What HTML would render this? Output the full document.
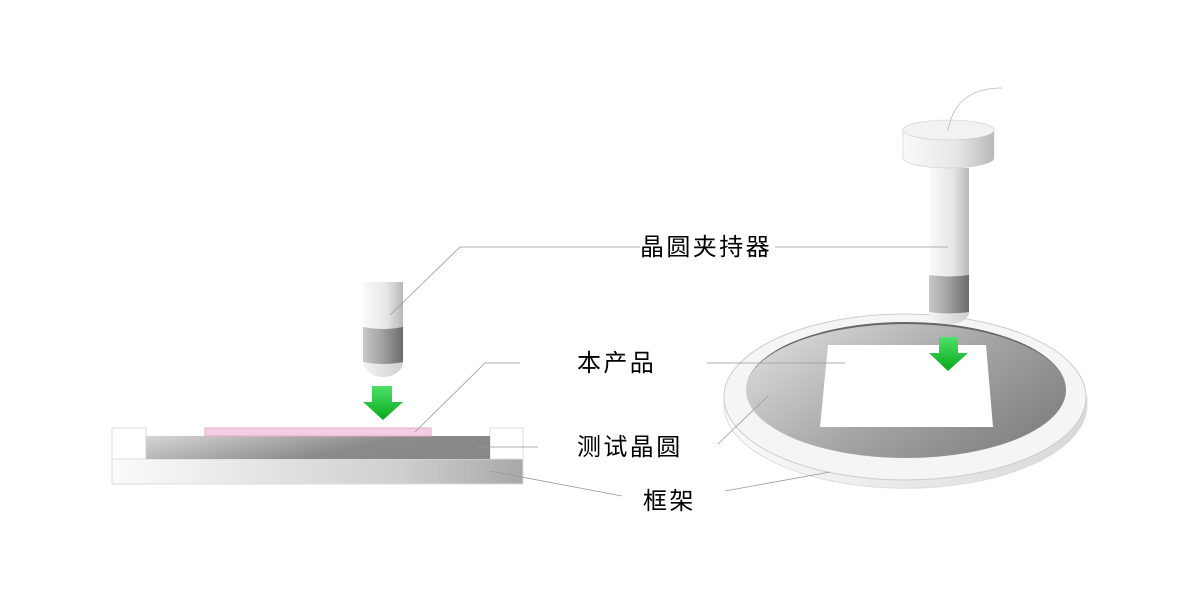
<!DOCTYPE html>
<html><head><meta charset="utf-8"><style>html,body{margin:0;padding:0;background:#fff}svg{display:block}text{font-family:"Liberation Sans","Noto Sans CJK SC",sans-serif;font-size:24px;fill:#000;letter-spacing:2.4px}</style></head>
<body>
<svg width="1200" height="600" viewBox="0 0 1200 600" xmlns="http://www.w3.org/2000/svg">
<defs>
<linearGradient id="cyl" x1="0" x2="1"><stop offset="0" stop-color="#fafafa"/><stop offset="0.6" stop-color="#e6e6e6"/><stop offset="1" stop-color="#b8b8b8"/></linearGradient>
<linearGradient id="band" x1="0" x2="1"><stop offset="0" stop-color="#c8c8c8"/><stop offset="0.5" stop-color="#a0a0a0"/><stop offset="1" stop-color="#6a6a6a"/></linearGradient>
<linearGradient id="tip" x1="0" x2="1"><stop offset="0" stop-color="#f4f4f4"/><stop offset="1" stop-color="#cfcfcf"/></linearGradient>
<linearGradient id="arr" x1="0" y1="0" x2="0" y2="1"><stop offset="0" stop-color="#4ee06a"/><stop offset="1" stop-color="#07a81a"/></linearGradient>
<linearGradient id="waf" x1="0" y1="0" x2="1" y2="0.3"><stop offset="0" stop-color="#d6d6d6"/><stop offset="0.7" stop-color="#8a8a8a"/><stop offset="1" stop-color="#888"/></linearGradient>
<linearGradient id="frm" x1="0" x2="1"><stop offset="0" stop-color="#fbfbfb"/><stop offset="0.7" stop-color="#cfcfcf"/><stop offset="1" stop-color="#a8a8a8"/></linearGradient>
<linearGradient id="disc" x1="0" y1="0" x2="1" y2="0.6"><stop offset="0" stop-color="#e4e4e4"/><stop offset="0.6" stop-color="#a6a6a6"/><stop offset="1" stop-color="#858585"/></linearGradient>
<linearGradient id="rim" x1="0" x2="1"><stop offset="0" stop-color="#fafafa"/><stop offset="1" stop-color="#d8d8d8"/></linearGradient>
</defs>

<!-- left frame -->
<rect x="112" y="459" width="411" height="25" fill="url(#frm)" stroke="#ddd"/>
<rect x="112" y="428" width="34" height="31" fill="#fff" stroke="#ddd"/>
<rect x="490" y="428" width="33" height="31" fill="#fff" stroke="#ddd"/>
<rect x="146" y="436" width="344" height="23" fill="url(#waf)"/>
<rect x="205" y="428" width="226" height="8" fill="#f6cde0" stroke="#e0b0c4"/>
<!-- left probe -->
<path d="M363 327 V362 A20 15 0 0 0 403 362 V327 Z" fill="url(#tip)"/>
<rect x="363" y="282" width="40" height="48" fill="url(#cyl)"/>
<path d="M363 327 Q383 331 403 327 V362 Q383 366 363 362 Z" fill="url(#band)"/>
<polygon points="372,386 392,386 392,402 403,402 383,420 363,402 372,402" fill="url(#arr)"/>

<!-- right disc -->
<path d="M724 397 V405 A181 83 0 0 0 1087 405 V397 Z" fill="url(#rim)" stroke="#ddd"/>
<ellipse cx="905" cy="397" rx="181" ry="83" fill="#f5f5f5" stroke="#ccc"/>
<ellipse cx="906" cy="390" rx="160" ry="68" fill="url(#disc)"/>
<path d="M746 390 A160 68 0 0 1 1066 390 A160 66 0 0 0 746 390 Z" fill="#666"/>
<polygon points="828,345 986,345 993,427 820,427" fill="#fff"/>
<polygon points="939,337 958,337 958,353 968,353 948,371 929,353 939,353" fill="url(#arr)"/>
<!-- right probe -->
<path d="M929 305 V312 A20 12 0 0 0 969 312 V305 Z" fill="url(#tip)"/>
<rect x="929" y="168" width="40" height="110" fill="url(#cyl)"/>
<path d="M929 275 Q949 278 969 275 V312 Q949 315 929 312 Z" fill="url(#band)"/>
<path d="M903 130 V158 A45.5 10 0 0 0 994 158 V130 Z" fill="url(#cyl)" stroke="#ccc" stroke-width="0.6"/>
<ellipse cx="948.5" cy="130" rx="45.5" ry="10" fill="#f2f2f2" stroke="#ccc" stroke-width="0.6"/>
<path d="M948 131 Q955 88 1002 88" fill="none" stroke="#bbb" stroke-width="0.8"/>

<!-- leader lines -->
<g stroke="#999" stroke-width="0.8" fill="none">
<polyline points="390,315 460,247 640,247"/>
<line x1="775" y1="247" x2="948" y2="247"/>
<polyline points="415,432 485,363 520,363"/>
<line x1="707" y1="363" x2="845" y2="363"/>
<line x1="477" y1="447" x2="538" y2="447"/>
<line x1="718" y1="444" x2="768" y2="396"/>
<line x1="490" y1="471" x2="622" y2="496"/>
<line x1="725" y1="491" x2="830" y2="472"/>
</g>

<text x="640" y="255">晶圆夹持器</text>
<text x="577" y="371">本产品</text>
<text x="577" y="455">测试晶圆</text>
<text x="643" y="509">框架</text>
</svg>
</body></html>
